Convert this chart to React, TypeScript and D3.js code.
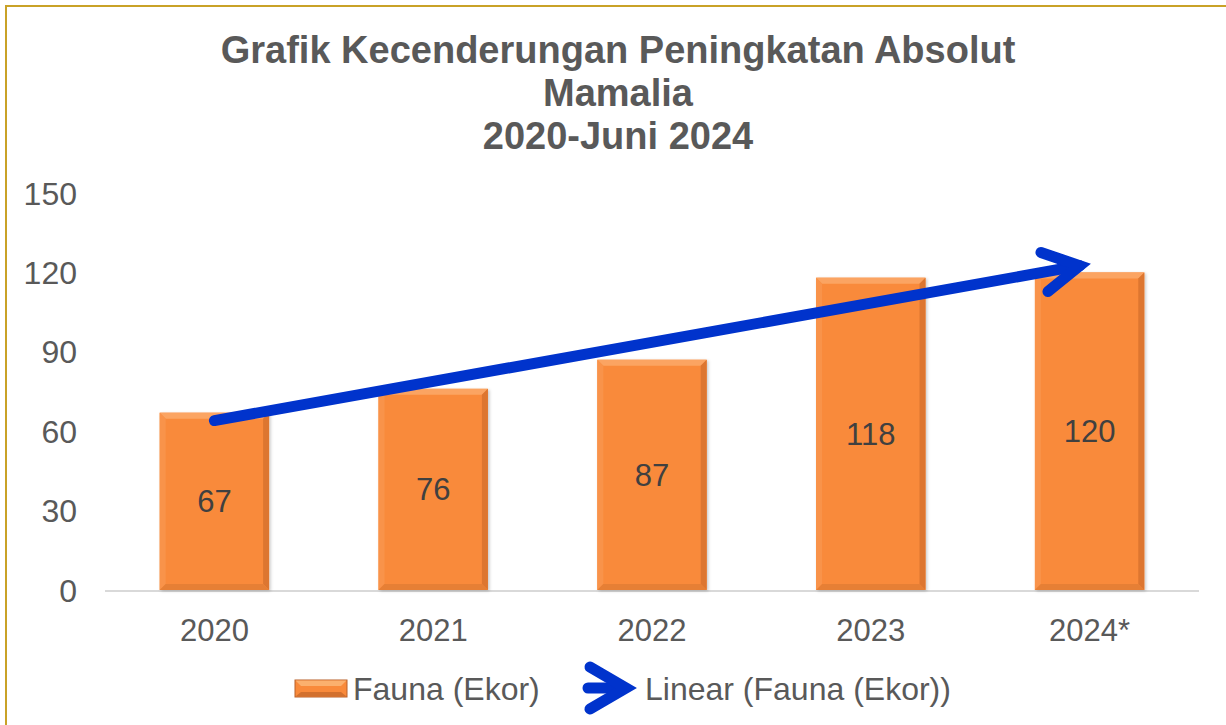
import React from 'react';
import * as d3 from 'd3';

const categories = ['2020', '2021', '2022', '2023', '2024*'];
const fauna = [67, 76, 87, 118, 120];
const yTicks = [0, 30, 60, 90, 120, 150];
const titleLines = ['Grafik Kecenderungan Peningkatan Absolut', 'Mamalia', '2020-Juni 2024'];

const W = 1226;
const H = 725;
const margin = { top: 193, right: 27, bottom: 135, left: 105 };
const FONT = '"Liberation Sans", Arial, sans-serif';
const BLUE = '#0033CC';

export default function App() {
  const x = d3.scaleBand().domain(categories).range([margin.left, W - margin.right]).paddingInner(0.5).paddingOuter(0.25);
  const y = d3.scaleLinear().domain([0, 150]).range([H - margin.bottom, margin.top]);

  // linear trendline (least squares over index 1..n)
  const n = fauna.length;
  const xs = fauna.map((_, i) => i + 1);
  const mx = d3.mean(xs)!;
  const my = d3.mean(fauna)!;
  const slope = d3.sum(xs, (v, i) => (v - mx) * (fauna[i] - my)) / d3.sum(xs, v => (v - mx) ** 2);
  const icpt = my - slope * mx;
  const cx = (i: number) => x(categories[i])! + x.bandwidth() / 2;
  const x0 = cx(0), y0 = y(icpt + slope * 1);
  const x1 = cx(n - 1), y1 = y(icpt + slope * n);
  const ang = Math.atan2(y1 - y0, x1 - x0);
  const back = 10;
  const vX = x1 - back * Math.cos(ang), vY = y1 - back * Math.sin(ang);
  const armLen = 41, armAng = (29 * Math.PI) / 180;
  const arm = (s: number) => [vX - armLen * Math.cos(ang + s * armAng), vY - armLen * Math.sin(ang + s * armAng)];
  const a1 = arm(1), a2 = arm(-1);

  const bevel = 6;
  const base = y(0);

  return (
    <div style={{ position: 'absolute', left: 0, top: 0 }}>
      <svg width={W} height={H} style={{ display: 'block', fontFamily: FONT }}>
        <defs>
          <filter id="shadow" x="-20%" y="-20%" width="140%" height="140%">
            <feDropShadow dx="1.5" dy="1" stdDeviation="1.5" floodColor="#000" floodOpacity="0.22" />
          </filter>
        </defs>
        <rect x={0} y={0} width={W} height={H} fill="#fff" />
        <rect x={6} y={6} width={W + 20} height={H + 20} fill="none" stroke="#C9A227" strokeWidth={2} />

        {titleLines.map((t, i) => (
          <text key={i} x={618} y={63 + i * 43} textAnchor="middle" fontSize={38} fontWeight="bold" fill="#595959">{t}</text>
        ))}

        {yTicks.map(t => (
          <text key={t} x={77} y={y(t) + 11.5} textAnchor="end" fontSize={32} fill="#595959">{t}</text>
        ))}

        <line x1={margin.left} x2={W - margin.right} y1={base + 1} y2={base + 1} stroke="#D9D9D9" strokeWidth={2} />

        {categories.map((c, i) => {
          const bx = x(c)!;
          const bw = x.bandwidth();
          const by = y(fauna[i]);
          const bh = base - by;
          const b = bevel;
          return (
            <g key={c}>
              <rect x={bx} y={by} width={bw} height={bh} fill="#F98A3B" filter="url(#shadow)" />
              <polygon points={`${bx},${by} ${bx + bw},${by} ${bx + bw - b},${by + b} ${bx + b},${by + b}`} fill="#FBA462" />
              <polygon points={`${bx},${by} ${bx + b},${by + b} ${bx + b},${base - b} ${bx},${base}`} fill="#F9934A" />
              <polygon points={`${bx + bw},${by} ${bx + bw},${base} ${bx + bw - b},${base - b} ${bx + bw - b},${by + b}`} fill="#DD7630" />
              <polygon points={`${bx},${base} ${bx + b},${base - b} ${bx + bw - b},${base - b} ${bx + bw},${base}`} fill="#E67F35" />
              <text x={bx + bw / 2} y={by + bh / 2 + 11} textAnchor="middle" fontSize={31} fill="#404040">{fauna[i]}</text>
              <text x={bx + bw / 2} y={base + 51} textAnchor="middle" fontSize={31} fill="#595959">{c}</text>
            </g>
          );
        })}

        <g stroke={BLUE} strokeWidth={11} strokeLinecap="round" fill="none">
          <line x1={x0} y1={y0} x2={vX} y2={vY} />
          <polyline points={`${a1[0]},${a1[1]} ${vX},${vY} ${a2[0]},${a2[1]}`} strokeLinejoin="miter" strokeMiterlimit={10} />
        </g>

        {/* legend */}
        <g>
          <rect x={295} y={680} width={52} height={17} fill="#F98A3B" stroke="#B8612A" strokeWidth={1} />
          <polygon points="295.5,680.5 346.5,680.5 341,686 301,686" fill="#FBB06E" />
          <polygon points="295.5,696.5 346.5,696.5 341,692 301,692" fill="#D2702E" />
          <text x={353} y={700} fontSize={32} fill="#595959">Fauna (Ekor)</text>
          <g stroke={BLUE} strokeWidth={11} strokeLinecap="round" fill="none">
            <line x1={588} y1={688} x2={622} y2={688} />
            <polyline points="590,667 626,688 590,709" strokeLinejoin="miter" strokeMiterlimit={10} />
          </g>
          <text x={645} y={700} fontSize={32} fill="#595959">Linear (Fauna (Ekor))</text>
        </g>
      </svg>
    </div>
  );
}
